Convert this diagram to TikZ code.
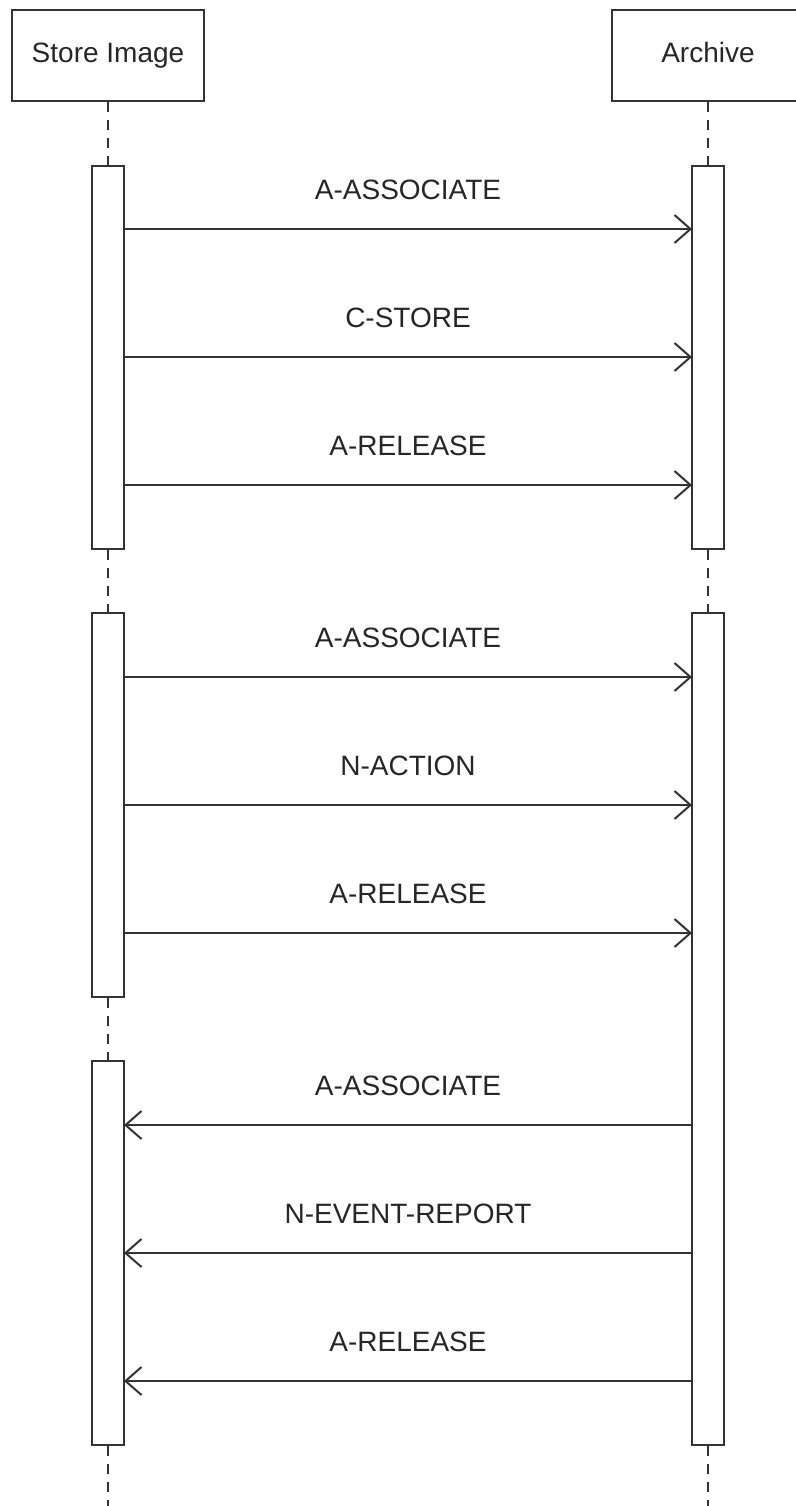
\documentclass[tikz,border=0pt]{standalone}
\usepackage{fontspec}
\setmainfont{Liberation Sans}
\usetikzlibrary{arrows.meta, positioning}

\begin{document}
\begin{tikzpicture}[x=0.5pt, y=-0.5pt, line width=1pt, draw=black!80, text=black!85,
	font=\fontsize{14}{17}\selectfont,
	head/.style={draw, minimum width=96pt, minimum height=45.5pt, text height=0.95em, text depth=0.22em},
	actbar/.style={draw, fill=white, anchor=north, minimum width=16pt, inner sep=0pt},
	life/.style={dash pattern=on 5pt off 4pt},
	msg/.style={-{Straight Barb[length=8pt, width=14pt]}}]
	
	\useasboundingbox (0,0) rectangle (796,1506);
	
	\node[head] (store) at (108,55.5) {Store Image};
	\node[head] (archive) at (708,55.5) {Archive};
	
	\coordinate (storeEnd) at (108,1506);
	\coordinate (archiveEnd) at (708,1506);
	
	% activation bars
	\node[actbar, minimum height=191.5pt] (s1) at (108,165) {};
	\node[actbar, minimum height=192pt] (s2) at (108,612) {};
	\node[actbar, minimum height=192pt] (s3) at (108,1060) {};
	\node[actbar, minimum height=191.5pt] (a1) at (708,165) {};
	\node[actbar, minimum height=416pt] (a2) at (708,612) {};
	
	\begin{scope}[life]
	\draw (store) -- (s1);
	\draw (s1) -- (s2);
	\draw (s2) -- (s3);
	\draw (s3.south) -- (storeEnd);
	\draw (archive) -- (a1);
	\draw (a1) -- (a2);
	\draw (a2.south) -- (archiveEnd);
	\end{scope}
	
	% messages
	\foreach \i/\y/\t in {1/229/A-ASSOCIATE, 2/357/C-STORE, 3/485/A-RELEASE,
		4/677/A-ASSOCIATE, 5/805/N-ACTION, 6/933/A-RELEASE}{
		\coordinate (from\i) at (124,\y);
		\coordinate (to\i) at (692,\y);
		\draw[msg] (from\i) -- (to\i) node[midway, yshift=19.5pt] {\t};
	}
	\foreach \i/\y/\t in {7/1125/A-ASSOCIATE, 8/1253/N-EVENT-REPORT, 9/1381/A-RELEASE}{
		\coordinate (from\i) at (692,\y);
		\coordinate (to\i) at (124,\y);
		\draw[msg] (from\i) -- (to\i) node[midway, yshift=19.5pt] {\t};
	}
\end{tikzpicture}
\end{document}
